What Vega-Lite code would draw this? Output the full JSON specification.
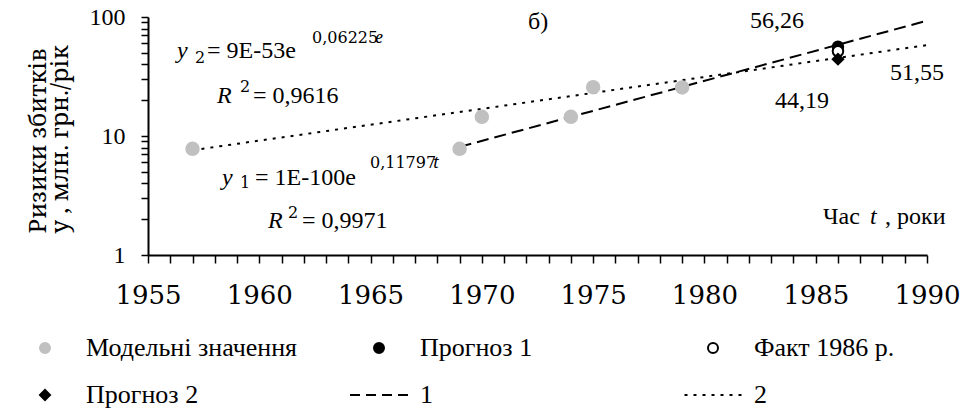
{
  "$schema": "https://vega.github.io/schema/vega-lite/v6.json",
  "autosize": "none",
  "width": 779,
  "height": 238,
  "padding": {"left": 148, "top": 17, "right": 33, "bottom": 159},
  "background": "white",
  "config": {
    "view": {"stroke": null}
  },
  "datasets": {
    "pts": [
      {"t": 1957, "v": 7.8, "series": "Модельні значення"},
      {"t": 1969, "v": 7.8, "series": "Модельні значення"},
      {"t": 1970, "v": 14.5, "series": "Модельні значення"},
      {"t": 1974, "v": 14.5, "series": "Модельні значення"},
      {"t": 1975, "v": 25.7, "series": "Модельні значення"},
      {"t": 1979, "v": 25.6, "series": "Модельні значення"},
      {"t": 1986, "v": 56.26, "series": "Прогноз 1"},
      {"t": 1986, "v": 51.55, "series": "Факт 1986 р."},
      {"t": 1986, "v": 44.19, "series": "Прогноз 2"}
    ],
    "trend": [
      {"t": 1969, "v": 8.1, "line": "1"},
      {"t": 1990, "v": 93, "line": "1"},
      {"t": 1957, "v": 7.6, "line": "2"},
      {"t": 1990, "v": 58, "line": "2"}
    ],
    "notes": [
      {"t": 1956.303, "v": 45.25, "text": "y", "kind": "i"},
      {"t": 1957.112, "v": 41.06, "text": "2", "kind": "s"},
      {"t": 1957.651, "v": 45.25, "text": "= 9E-53e", "kind": "n"},
      {"t": 1962.369, "v": 60.45, "text": "0,06225", "kind": "s"},
      {"t": 1965.199, "v": 60.45, "text": "e", "kind": "si"},
      {"t": 1958.1, "v": 18.94, "text": "R", "kind": "i"},
      {"t": 1959.134, "v": 23.43, "text": "2", "kind": "s"},
      {"t": 1959.718, "v": 18.94, "text": "= 0,9616", "kind": "n"},
      {"t": 1958.325, "v": 3.875, "text": "y", "kind": "i"},
      {"t": 1959.134, "v": 3.656, "text": "1", "kind": "s"},
      {"t": 1959.808, "v": 3.875, "text": "= 1E-100e", "kind": "n"},
      {"t": 1964.974, "v": 5.384, "text": "0,11797", "kind": "s"},
      {"t": 1967.805, "v": 5.384, "text": "t", "kind": "si"},
      {"t": 1960.392, "v": 1.686, "text": "R", "kind": "i"},
      {"t": 1961.29, "v": 2.046, "text": "2", "kind": "s"},
      {"t": 1961.919, "v": 1.686, "text": "= 0,9971", "kind": "n"},
      {"t": 1972.073, "v": 79.3, "text": "б)", "kind": "n"},
      {"t": 1982.048, "v": 80.8, "text": "56,26", "kind": "n"},
      {"t": 1988.338, "v": 29.55, "text": "51,55", "kind": "n"},
      {"t": 1983.171, "v": 17.19, "text": "44,19", "kind": "n"},
      {"t": 1985.328, "v": 1.822, "text": "Час", "kind": "n"},
      {"t": 1987.439, "v": 1.822, "text": "t", "kind": "i"},
      {"t": 1988.113, "v": 1.822, "text": ", роки", "kind": "n"}
    ]
  },
  "encoding": {
    "x": {"field": "t", "type": "quantitative", "scale": {"domain": [1955, 1990], "nice": false, "zero": false},
      "axis": {"title": null, "grid": false, "labelFont": "DejaVu Serif", "labelColor": "black", "domainColor": "black", "tickColor": "black", "domainWidth": 2, "tickWidth": 1.5, "values": [1955,1956,1957,1958,1959,1960,1961,1962,1963,1964,1965,1966,1967,1968,1969,1970,1971,1972,1973,1974,1975,1976,1977,1978,1979,1980,1981,1982,1983,1984,1985,1986,1987,1988,1989,1990], "format": "d", "labelExpr": "datum.value % 5 === 0 ? datum.label : ''", "labelFontSize": 26, "tickSize": 8, "labelPadding": 19, "labelFlush": false}},
    "y": {"field": "v", "type": "quantitative", "scale": {"type": "log", "domain": [1, 100], "nice": false},
      "axis": {"title": ["Ризики збитків", "y , млн. грн./рік"], "grid": false, "labelFont": "Times New Roman", "titleFont": "Noto Serif", "titleFontWeight": "normal", "labelColor": "black", "titleColor": "black", "domainColor": "black", "tickColor": "black", "domainWidth": 2, "tickWidth": 1.5, "values": [1,2,3,4,5,6,7,8,9,10,20,30,40,50,60,70,80,90,100], "format": "d", "labelExpr": "datum.value === 1 || datum.value === 10 || datum.value === 100 ? datum.label : ''", "labelFontSize": 24, "tickSize": 7, "labelPadding": 16, "titleFontSize": 24, "titleAngle": -90, "titleAlign": "left", "titleBaseline": "top", "titleLineHeight": 22, "titleX": -122, "titleY": 216}}
  },
  "layer": [
    {
      "data": {"name": "trend"},
      "transform": [{"filter": "datum.line === '1'"}],
      "mark": {"type": "line", "color": "black", "strokeWidth": 2, "strokeDash": [12, 6]}
    },
    {
      "data": {"name": "trend"},
      "transform": [{"filter": "datum.line === '2'"}],
      "mark": {"type": "line", "color": "black", "strokeWidth": 2, "strokeDash": [3, 6]}
    },
    {
      "data": {"name": "pts"},
      "transform": [{"filter": "datum.series === 'Модельні значення'"}],
      "mark": {"type": "point", "filled": true, "size": 169, "strokeWidth": 1.5, "opacity": 1},
      "encoding": {
        "shape": {"field": "series", "type": "nominal", "scale": {"domain": ["Модельні значення", "Прогноз 1", "Факт 1986 р.", "Прогноз 2", "1", "2"], "range": ["circle", "circle", "circle", "diamond", "M-5.8,0H-3.8M-2.6,0H-0.6M0.6,0H2.6M3.8,0H5.8", "M-5.7,0H-5.1M-3.9,0H-3.3M-2.1,0H-1.5M-0.3,0H0.3M1.5,0H2.1M3.3,0H3.9M5.1,0H5.7"]}, "legend": {"title": null, "orient": "none", "legendX": -116, "legendY": 318, "direction": "horizontal", "columns": 3, "gridAlign": "all", "columnPadding": 48, "rowPadding": 21, "padding": 0, "labelFont": "serif", "labelFontSize": 26, "labelColor": "black", "labelLimit": 400, "symbolSize": 100, "symbolStrokeWidth": 2, "labelOffset": 28}},
        "fill": {"field": "series", "type": "nominal", "scale": {"domain": ["Модельні значення", "Прогноз 1", "Факт 1986 р.", "Прогноз 2", "1", "2"], "range": ["#c0c0c0", "black", "white", "black", "transparent", "transparent"]}, "legend": {"title": null, "orient": "none", "legendX": -116, "legendY": 318, "direction": "horizontal", "columns": 3, "gridAlign": "all", "columnPadding": 48, "rowPadding": 21, "padding": 0, "labelFont": "serif", "labelFontSize": 26, "labelColor": "black", "labelLimit": 400, "symbolSize": 100, "symbolStrokeWidth": 2, "labelOffset": 28}},
        "stroke": {"field": "series", "type": "nominal", "scale": {"domain": ["Модельні значення", "Прогноз 1", "Факт 1986 р.", "Прогноз 2", "1", "2"], "range": ["#c0c0c0", "black", "black", "black", "black", "black"]}, "legend": {"title": null, "orient": "none", "legendX": -116, "legendY": 318, "direction": "horizontal", "columns": 3, "gridAlign": "all", "columnPadding": 48, "rowPadding": 21, "padding": 0, "labelFont": "serif", "labelFontSize": 26, "labelColor": "black", "labelLimit": 400, "symbolSize": 100, "symbolStrokeWidth": 2, "labelOffset": 28}}
      }
    },
    {
      "data": {"name": "pts"},
      "transform": [{"filter": "datum.series !== 'Модельні значення'"}],
      "mark": {"type": "point", "filled": true, "size": 110, "strokeWidth": 2, "opacity": 1},
      "encoding": {
        "shape": {"field": "series", "type": "nominal"},
        "fill": {"field": "series", "type": "nominal"},
        "stroke": {"field": "series", "type": "nominal"}
      }
    },
    {
      "data": {"name": "notes"},
      "transform": [{"filter": "datum.kind === 'n'"}],
      "mark": {"type": "text", "align": "left", "baseline": "alphabetic", "fontSize": 24, "font": "Liberation Serif", "color": "black"},
      "encoding": {"text": {"field": "text"}}
    },
    {
      "data": {"name": "notes"},
      "transform": [{"filter": "datum.kind === 'i'"}],
      "mark": {"type": "text", "align": "left", "baseline": "alphabetic", "fontSize": 24, "fontStyle": "italic", "font": "Times New Roman", "color": "black"},
      "encoding": {"text": {"field": "text"}}
    },
    {
      "data": {"name": "notes"},
      "transform": [{"filter": "datum.kind === 's'"}],
      "mark": {"type": "text", "align": "left", "baseline": "alphabetic", "fontSize": 16, "font": "DejaVu Serif", "color": "black"},
      "encoding": {"text": {"field": "text"}}
    },
    {
      "data": {"name": "notes"},
      "transform": [{"filter": "datum.kind === 'si'"}],
      "mark": {"type": "text", "align": "left", "baseline": "alphabetic", "fontSize": 16, "fontStyle": "italic", "font": "Noto Serif", "color": "black"},
      "encoding": {"text": {"field": "text"}}
    }
  ]
}
